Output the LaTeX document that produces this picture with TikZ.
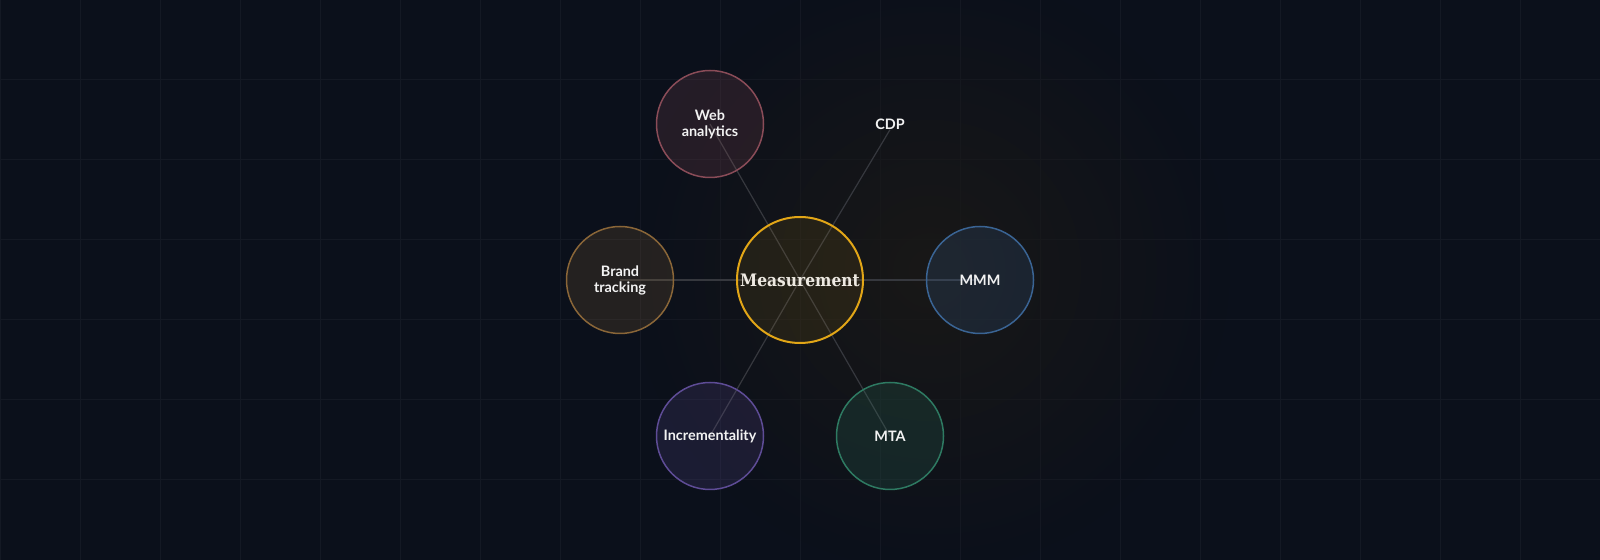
\documentclass[tikz,border=0pt]{standalone}
\usepackage{fontspec}
\setmainfont{Lato}
\newfontfamily\hubfont{DejaVu Serif Condensed}
\usetikzlibrary{fadings}

\pgfdeclarelayer{bg}
\pgfdeclarelayer{links}
\pgfsetlayers{bg,links,main}

\definecolor{canvas}{HTML}{0B101B}
\definecolor{gridcol}{HTML}{141924}
\definecolor{linkcol}{HTML}{36383E}
\definecolor{glowcol}{HTML}{191817}
\definecolor{hubcol}{HTML}{E2A617}
\definecolor{hubtext}{HTML}{EEEAE2}
\definecolor{webcol}{HTML}{8A4C58}
\definecolor{brandcol}{HTML}{8A6638}
\definecolor{mmmcol}{HTML}{3A6494}
\definecolor{inccol}{HTML}{5E4C96}
\definecolor{mtacol}{HTML}{2E7A62}
\definecolor{labelcol}{HTML}{F2F2F2}

\tikzfading[name=glowfade, inner color=transparent!0, outer color=transparent!100]

\begin{document}
\begin{tikzpicture}[x=0.5pt,y=-0.5pt]
	\tikzset{spoke/.style = {shape=circle, draw=#1, fill=#1, fill opacity=0.2,
			text opacity=1, line width=0.75pt, minimum size=53.5pt,
			inner sep=0pt, text=labelcol, align=center,
			font=\bfseries\fontsize{7.2}{8}\selectfont}}
	\tikzset{hub/.style = {shape=circle, draw=hubcol, fill=hubcol,
			fill opacity=0.09, text opacity=1, line width=1pt,
			minimum size=63pt, inner sep=0pt, text=hubtext,
			font=\hubfont\bfseries\fontsize{8.6}{10}\selectfont}}
	\tikzset{bare/.style = {inner sep=0pt, text=labelcol,
			font=\bfseries\fontsize{7.2}{8}\selectfont}}
	\tikzset{linkline/.style = {draw=linkcol, line width=0.6pt}}
	\tikzset{gridline/.style = {draw=gridcol, line width=0.5pt}}
	
	\useasboundingbox (0,0) rectangle (1600,560);
	
	% backdrop
	\begin{pgfonlayer}{bg}
		\fill[canvas] (0,0) rectangle (1600,560);
		\foreach \gx in {0,80,...,1600}
			\draw[gridline] (\gx,0) -- (\gx,560);
		\foreach \gy in {0,80,...,560}
			\draw[gridline] (0,\gy) -- (1600,\gy);
		\fill[glowcol, path fading=glowfade] (930,270) circle[radius=150pt];
	\end{pgfonlayer}
	
	% vertices
	\node[hub] (hub) at (800,280) {Measurement};
	\node[spoke=webcol] (web) at (710,124) {Web\\analytics};
	\node[bare] (cdp) at (890,124) {CDP};
	\node[spoke=brandcol] (brand) at (620,280) {Brand\\tracking};
	\node[spoke=mmmcol] (mmm) at (980,280) {MMM};
	\node[spoke=inccol] (inc) at (710,436) {Incrementality};
	\node[spoke=mtacol] (mta) at (890,436) {MTA};
	
	% edges
	\begin{pgfonlayer}{links}
		\draw[linkline] (web.center) -- (hub.center) -- (mta.center);
		\draw[linkline] (inc.center) -- (hub.center) -- (cdp.south);
		\draw[linkline] (brand.center) -- (hub.center) -- (mmm.center);
	\end{pgfonlayer}
\end{tikzpicture}
\end{document}
